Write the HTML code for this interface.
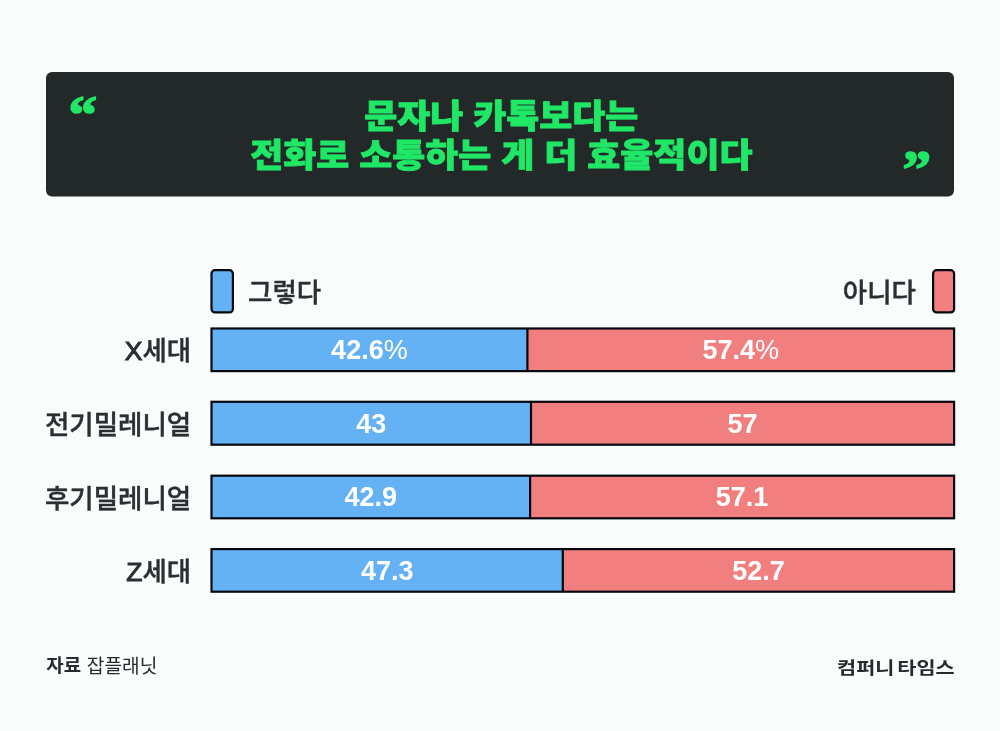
<!DOCTYPE html>
<html lang="ko">
<head>
<meta charset="utf-8">
<title>문자나 카톡보다는 전화로 소통하는 게 더 효율적이다</title>
<style>
  html, body { margin: 0; padding: 0; background: #f9fcfb; }
  body { width: 1000px; height: 731px; overflow: hidden; }
  svg { display: block; }
  text { font-family: "Liberation Sans", "Noto Sans CJK KR", sans-serif; }
  .title { font-weight: 900; font-size: 32.5px; fill: #20e766; stroke: #20e766; stroke-width: 0.8px; text-anchor: middle; }
  .quote { font-family: "Liberation Serif", serif; font-weight: 700; font-size: 52px; fill: #20e766; stroke: #20e766; stroke-width: 1.6px; stroke-linejoin: round; }
  .lab { font-weight: 500; font-size: 26.5px; fill: #2b2e33; stroke: #2b2e33; stroke-width: 0.4px; }
  .row { text-anchor: end; }
  .lat { stroke-width: 1px; }
  .val { font-weight: 700; font-size: 27px; fill: #ffffff; text-anchor: middle; }
  .pct { font-weight: 400; }
  .foot { fill: #26292d; }
  .b { font-weight: 700; }
  .l { font-weight: 300; }
  .bar { stroke: #06080f; stroke-width: 2.2; }
  .frame { fill: none; stroke: #06080f; stroke-width: 2.2; }
  .blue { fill: #64b2f4; }
  .red { fill: #f27f7f; }
</style>
</head>
<body>
<svg width="1000" height="731" viewBox="0 0 1000 731">
  <rect x="0" y="0" width="1000" height="731" fill="#f9fcfb"/>

  <!-- header -->
  <rect x="46" y="72" width="908" height="124.5" rx="6" ry="6" fill="#232829"/>
  <text class="quote" transform="translate(68.5 132) scale(1.1 1)">“</text>
  <text class="quote" transform="translate(902.5 187) scale(1.1 1)">”</text>
  <g transform="translate(501.3 0) scale(1.105 1)">
    <text class="title" x="0" y="128.5">문자나 카톡보다는</text>
    <text class="title" x="0" y="167.5">전화로 소통하는 게 더 효율적이다</text>
  </g>

  <!-- legend -->
  <rect class="bar blue" x="211.5" y="270.2" width="21.4" height="42.2" rx="3.5"/>
  <text class="lab" x="248" y="302">그렇다</text>
  <rect class="bar red" x="933.1" y="270.2" width="21" height="42.2" rx="3.5"/>
  <text class="lab" x="916" y="302" text-anchor="end">아니다</text>

  <!-- bars -->
  <g>
    <text class="lab row" x="191.2" y="360"><tspan class="lat">X</tspan>세대</text>
    <rect class="blue" x="211.5" y="328.5" width="315.9" height="42.6"/>
    <rect class="red" x="527.4" y="328.5" width="426.7" height="42.6"/>
    <rect class="frame" x="211.5" y="328.5" width="742.6" height="42.6"/>
    <line class="frame" x1="527.4" y1="328.5" x2="527.4" y2="371.1"/>
    <text class="val" x="369.4" y="359.2">42.6<tspan class="pct">%</tspan></text>
    <text class="val" x="740.7" y="359.2">57.4<tspan class="pct">%</tspan></text>
  </g>
  <g>
    <text class="lab row" x="191.2" y="433.5">전기밀레니얼</text>
    <rect class="blue" x="211.5" y="401.8" width="319.5" height="42.9"/>
    <rect class="red" x="531.0" y="401.8" width="423.1" height="42.9"/>
    <rect class="frame" x="211.5" y="401.8" width="742.6" height="42.9"/>
    <line class="frame" x1="531.0" y1="401.8" x2="531.0" y2="444.7"/>
    <text class="val" x="371.2" y="432.7">43</text>
    <text class="val" x="742.5" y="432.7">57</text>
  </g>
  <g>
    <text class="lab row" x="191.2" y="507.5">후기밀레니얼</text>
    <rect class="blue" x="211.5" y="475.7" width="318.6" height="42.6"/>
    <rect class="red" x="530.1" y="475.7" width="424.0" height="42.6"/>
    <rect class="frame" x="211.5" y="475.7" width="742.6" height="42.6"/>
    <line class="frame" x1="530.1" y1="475.7" x2="530.1" y2="518.3"/>
    <text class="val" x="370.8" y="506.3">42.9</text>
    <text class="val" x="742" y="506.3">57.1</text>
  </g>
  <g>
    <text class="lab row" x="191.2" y="580.8"><tspan class="lat">Z</tspan>세대</text>
    <rect class="blue" x="211.5" y="549.1" width="351.3" height="42.6"/>
    <rect class="red" x="562.8" y="549.1" width="391.3" height="42.6"/>
    <rect class="frame" x="211.5" y="549.1" width="742.6" height="42.6"/>
    <line class="frame" x1="562.8" y1="549.1" x2="562.8" y2="591.7"/>
    <text class="val" x="387.2" y="579.8">47.3</text>
    <text class="val" x="758.5" y="579.8">52.7</text>
  </g>

  <!-- footer -->
  <text class="foot b" font-size="18" transform="translate(46.3 671.7) scale(1.05 1)">자료</text>
  <text class="foot" font-size="19.2" font-weight="400" x="86.8" y="672.7">잡플래닛</text>
  <text class="foot b" font-size="17.6" text-anchor="end" word-spacing="-2.4" transform="translate(954.6 673.7) scale(1.18 1)">컴퍼니 타임스</text>
</svg>
</body>
</html>
